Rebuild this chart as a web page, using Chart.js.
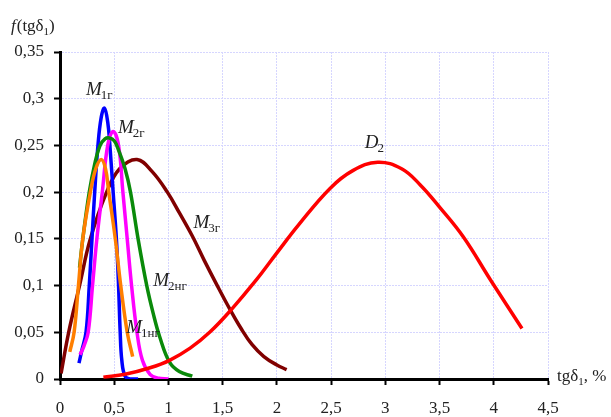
<!DOCTYPE html>
<html>
<head>
<meta charset="utf-8">
<script src="https://cdn.jsdelivr.net/npm/chart.js@4.4.0/dist/chart.umd.min.js"></script>
<style>
  html, body { margin: 0; padding: 0; background: #fff; }
  #wrap { width: 611px; height: 417px; }
</style>
</head>
<body>
<div id="wrap"><canvas id="chart" width="611" height="417"></canvas></div>
<script>
// curves (x = tgδ1, %; y = f(tgδ1))
const m1gX = [0.175, 0.2, 0.24, 0.27, 0.295, 0.32, 0.35, 0.38, 0.41, 0.44, 0.46, 0.49, 0.52, 0.54, 0.555, 0.57, 0.6, 0.65, 0.72];
const m1gY = [0.017, 0.03, 0.05, 0.1, 0.15, 0.2, 0.25, 0.28, 0.29, 0.275, 0.25, 0.2, 0.15, 0.1, 0.05, 0.02, 0.003, 0.0, 0.0];

const m2gX = [0.185, 0.22, 0.26, 0.3, 0.34, 0.39, 0.44, 0.49, 0.54, 0.58, 0.62, 0.66, 0.71, 0.76, 0.83, 0.9, 1.0];
const m2gY = [0.026, 0.035, 0.05, 0.1, 0.15, 0.2, 0.25, 0.265, 0.25, 0.2, 0.15, 0.1, 0.05, 0.02, 0.005, 0.001, 0.0];

const m2ngX = [0.18, 0.21, 0.27, 0.32, 0.37, 0.415, 0.455, 0.5, 0.54, 0.6, 0.65, 0.72, 0.8, 0.86, 0.92, 1.01, 1.1, 1.22];
const m2ngY = [0.119, 0.15, 0.2, 0.23, 0.25, 0.257, 0.258, 0.255, 0.245, 0.225, 0.2, 0.15, 0.1, 0.07, 0.045, 0.018, 0.008, 0.003];

const m1ngX = [0.09, 0.13, 0.17, 0.21, 0.28, 0.33, 0.38, 0.42, 0.45, 0.51, 0.56, 0.62, 0.67];
const m1ngY = [0.029, 0.05, 0.1, 0.15, 0.2, 0.225, 0.235, 0.225, 0.2, 0.15, 0.1, 0.05, 0.024];

const m3gX = [0.01, 0.08, 0.18, 0.28, 0.43, 0.55, 0.71, 0.85, 0.99, 1.1, 1.22, 1.33, 1.45, 1.57, 1.67, 1.77, 1.88, 2.0, 2.09];
const m3gY = [0.006, 0.05, 0.1, 0.15, 0.2, 0.225, 0.235, 0.222, 0.2, 0.178, 0.153, 0.127, 0.1, 0.074, 0.054, 0.037, 0.024, 0.015, 0.01];

const d2X = [0.4, 0.6, 0.83, 1.01, 1.2, 1.38, 1.57, 1.81, 2.0, 2.2, 2.49, 2.7, 2.93, 3.15, 3.32, 3.5, 3.72, 3.97, 4.26];
const d2Y = [0.002, 0.005, 0.012, 0.02, 0.033, 0.05, 0.073, 0.106, 0.135, 0.165, 0.204, 0.223, 0.232, 0.225, 0.208, 0.184, 0.152, 0.106, 0.054];

// curve names: main letter + subscript, anchored in data units
const labelMain = ['M', 'M', 'M', 'M', 'M', 'D'];
const labelSub = ['1г', '2г', '3г', '2нг', '1нг', '2'];
const labelX = [0.24, 0.535, 1.23, 0.86, 0.61, 2.81];
const labelY = [0.304, 0.263, 0.162, 0.1, 0.049, 0.247];

function pts(xs, ys) {
    return xs.map((x, i) => ({ x: x, y: ys[i] }));
}

function curve(xs, ys, color) {
    return {
        data: pts(xs, ys),
        borderColor: color,
        backgroundColor: color,
        borderWidth: 3.5,
        pointRadius: 0,
        showLine: true,
        fill: false,
        tension: 0.4
    };
}

const serif = '"Liberation Serif", "DejaVu Serif", serif';

// curve names, axis titles
const textPlugin = {
    id: 'texts',
    afterDatasetsDraw(chart) {
        const ctx = chart.ctx;
        const xs = chart.scales.x, ys = chart.scales.y;
        ctx.save();
        ctx.fillStyle = '#222';
        ctx.textBaseline = 'alphabetic';
        ctx.textAlign = 'left';
        for (let i = 0; i < labelMain.length; i++) {
            const px = xs.getPixelForValue(labelX[i]);
            const py = ys.getPixelForValue(labelY[i]);
            ctx.font = 'italic 19px ' + serif;
            ctx.fillText(labelMain[i], px, py);
            const w = ctx.measureText(labelMain[i]).width;
            ctx.font = '13px ' + serif;
            ctx.fillText(labelSub[i], px + w - 1, py + 4);
        }

        // y title: f(tgδ1)
        let x = 11;
        const yb = 31;
        ctx.font = 'italic 17px ' + serif;
        ctx.fillText('f', x, yb);
        x += ctx.measureText('f').width + 1;
        ctx.font = '17px ' + serif;
        ctx.fillText('(tgδ', x, yb);
        x += ctx.measureText('(tgδ').width;
        ctx.font = '11px ' + serif;
        ctx.fillText('1', x, yb + 4);
        x += ctx.measureText('1').width;
        ctx.font = '17px ' + serif;
        ctx.fillText(')', x, yb);

        // x title: tgδ1, %
        x = 557;
        const xb = 381;
        ctx.font = '17px ' + serif;
        ctx.fillText('tgδ', x, xb);
        x += ctx.measureText('tgδ').width;
        ctx.font = '11px ' + serif;
        ctx.fillText('1', x, xb + 4);
        x += ctx.measureText('1').width;
        ctx.font = '17px ' + serif;
        ctx.fillText(', %', x, xb);
        ctx.restore();
    }
};

const fmt = v => (Math.round(v * 100) / 100).toString().replace('.', ',');

new Chart(document.getElementById('chart'), {
    type: 'scatter',
    data: {
        datasets: [
            curve(d2X, d2Y, '#ff0000'),
            curve(m1ngX, m1ngY, '#ff7f00'),
            curve(m2ngX, m2ngY, '#0a8a0a'),
            curve(m2gX, m2gY, '#ff00ff'),
            curve(m1gX, m1gY, '#0000ff'),
            curve(m3gX, m3gY, '#800000')
        ]
    },
    options: {
        responsive: false,
        animation: false,
        layout: { padding: { left: 0, top: 52, right: 63, bottom: 0 } },
        plugins: {
            legend: { display: false },
            tooltip: { enabled: false }
        },
        scales: {
            x: {
                type: 'linear',
                min: 0,
                max: 4.5,
                afterFit: s => { s.height = 38; },
                ticks: {
                    stepSize: 0.5,
                    padding: 13,
                    color: '#222',
                    font: { family: serif, size: 17 },
                    callback: fmt,
                    maxRotation: 0
                },
                grid: { color: '#d6d6ff', lineWidth: 1, tickColor: '#000', tickWidth: 2, tickLength: 6 },
                border: { color: '#000', width: 3, dash: [2, 1] }
            },
            y: {
                min: 0,
                max: 0.35,
                afterFit: s => { s.width = 60; },
                ticks: {
                    stepSize: 0.05,
                    padding: 10,
                    color: '#222',
                    font: { family: serif, size: 17 },
                    callback: fmt
                },
                grid: { color: '#d6d6ff', lineWidth: 1, tickColor: '#000', tickWidth: 2, tickLength: 6 },
                border: { color: '#000', width: 3, dash: [2, 1] }
            }
        }
    },
    plugins: [textPlugin]
});
</script>
</body>
</html>
